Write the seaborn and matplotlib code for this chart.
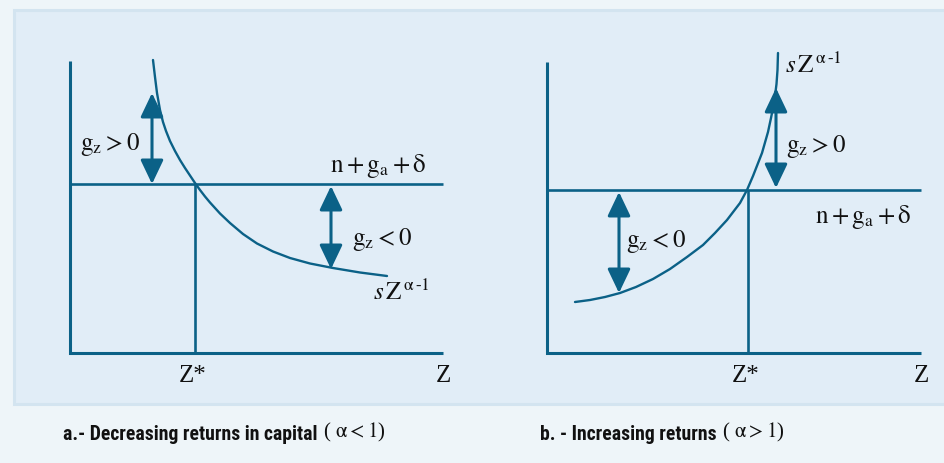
import matplotlib
matplotlib.use("Agg")
import matplotlib.pyplot as plt
from matplotlib import font_manager
from matplotlib.patches import Rectangle
import seaborn as sns
import pandas as pd

# --- figure data, in picture pixels (x right, y down) ---
# panel a: decreasing returns, the curve s*Z^(a-1)
CURVE_A_X = [153, 155, 157, 160, 163, 166, 170, 175, 180, 185, 190, 195, 200, 205, 210, 220,
             230, 243, 257, 273, 290, 310, 333, 360, 387]
CURVE_A_Y = [60, 77, 93, 110, 122, 131, 141, 151, 160, 168, 175.5, 183, 190, 196.5, 202.5, 213.5,
             223, 234, 243.5, 251.5, 258, 263.5, 268, 272.5, 276]
# panel b: increasing returns
CURVE_B_X = [575, 590, 605, 620, 636, 653, 670, 687, 703, 715, 727, 740, 747, 753, 762, 768,
             771, 773, 775, 776.5, 777.5, 778]
CURVE_B_Y = [302, 300, 297, 293, 287, 279, 269, 257, 245, 233, 220, 203, 190, 176, 153, 132,
             118, 108, 96, 84, 70, 53]

# frame of each panel: y-axis x, top, bottom, right end, level of n+ga+delta, Z*
FRAME_X0 = [70, 547]
FRAME_TOP = [61, 62]
FRAME_BOTTOM = [353, 353]
FRAME_X1 = [443, 921]
LEVEL_Y = [184, 190]
ZSTAR_X = [195, 748]

# double arrows: x, top, bottom
ARROW_X = [152, 331, 776, 619]
ARROW_TOP = [93, 186, 88, 192]
ARROW_BOTTOM = [184, 269, 188, 293]

LABELS = [r"$\mathrm{g}_{\mathrm{z}}>0$", r"$\mathrm{n}+\mathrm{g}_{\mathrm{a}}+\mathrm{\delta}$",
          r"$\mathrm{g}_{\mathrm{z}}<0$", r"$s\,\mathrm{Z}^{\,\mathrm{\alpha}\,\text{-}1}$",
          r"$s\,\mathrm{Z}^{\,\mathrm{\alpha}\,\text{-}1}$", r"$\mathrm{g}_{\mathrm{z}}>0$",
          r"$\mathrm{n}+\mathrm{g}_{\mathrm{a}}+\mathrm{\delta}$", r"$\mathrm{g}_{\mathrm{z}}<0$"]
LABEL_X = [80, 330, 352, 373, 785, 786, 815, 626]
LABEL_Y = [150, 172, 245, 300, 73, 152, 223, 247]

CAPTIONS = ["a.- Decreasing returns in capital", "b. - Increasing returns"]
CAPTION_TAILS = [r" ( $\mathrm{\alpha} < 1$)", r" ( $\mathrm{\alpha} > 1$)"]
CAPTION_X = [63, 540]

INK = "#0b6187"
W, H = 944, 463

sns.set_theme(style="white")
plt.rcParams["mathtext.fontset"] = "stix"

have = {f.name for f in font_manager.fontManager.ttflist}
narrow = [f for f in ["Liberation Sans Narrow", "Roboto Condensed", "DejaVu Sans Condensed"] if f in have]
cap_family = narrow[:1] + ["DejaVu Sans"]

fig = plt.figure(figsize=(W / 100, H / 100), dpi=100, facecolor="#eef5f9")
ax = fig.add_axes([0, 0, 1, 1])
ax.set_xlim(0, W)
ax.set_ylim(H, 0)
ax.axis("off")

ax.add_patch(Rectangle((14, 10), 940, 394, facecolor="#e1edf7", edgecolor="#d3e4f0", lw=2.2, zorder=0))

for i in range(2):
    ax.plot([FRAME_X0[i], FRAME_X0[i], FRAME_X1[i]], [FRAME_TOP[i], FRAME_BOTTOM[i], FRAME_BOTTOM[i]],
            color=INK, lw=2.2, solid_joinstyle="miter", solid_capstyle="butt")
    ax.plot([FRAME_X0[i], FRAME_X1[i]], [LEVEL_Y[i], LEVEL_Y[i]], color=INK, lw=1.9, solid_capstyle="butt")
    ax.plot([ZSTAR_X[i], ZSTAR_X[i]], [LEVEL_Y[i], FRAME_BOTTOM[i]], color=INK, lw=1.9, solid_capstyle="butt")
    ax.text(ZSTAR_X[i] - 2, FRAME_BOTTOM[i] + 29, "Z*", ha="center", va="baseline",
            fontsize=18, family="Liberation Serif", color="#111111")
    ax.text(FRAME_X1[i], FRAME_BOTTOM[i] + 29, "Z", ha="center", va="baseline",
            fontsize=18, family="Liberation Serif", color="#111111")

curves = pd.concat([
    pd.DataFrame({"x": CURVE_A_X, "y": CURVE_A_Y, "panel": "a"}),
    pd.DataFrame({"x": CURVE_B_X, "y": CURVE_B_Y, "panel": "b"}),
])
for p, grp in curves.groupby("panel"):
    sns.lineplot(data=grp, x="x", y="y", sort=False, estimator=None, color=INK, lw=1.7, ax=ax)

for x, y0, y1 in zip(ARROW_X, ARROW_TOP, ARROW_BOTTOM):
    ax.annotate("", xy=(x, y0), xytext=(x, y1),
                arrowprops=dict(arrowstyle="<|-|>,head_length=1.05,head_width=0.5",
                                mutation_scale=14, color=INK, lw=2.2, shrinkA=0, shrinkB=0))

for s, x, y in zip(LABELS, LABEL_X, LABEL_Y):
    ax.text(x, y, s, ha="left", va="baseline", fontsize=18, color="#111111")

for s, tail, x in zip(CAPTIONS, CAPTION_TAILS, CAPTION_X):
    t = ax.text(x, 440, s, ha="left", va="baseline", fontsize=14.2, fontweight="bold",
                fontstretch="condensed", family=cap_family, color="#111111")
    ax.annotate(tail, xy=(1, 0), xycoords=t, ha="left", va="bottom", fontsize=15,
                family="Liberation Serif", color="#111111")

ax.set_xlabel("")
ax.set_ylabel("")
fig.savefig("out.png", dpi=100, facecolor=fig.get_facecolor())
